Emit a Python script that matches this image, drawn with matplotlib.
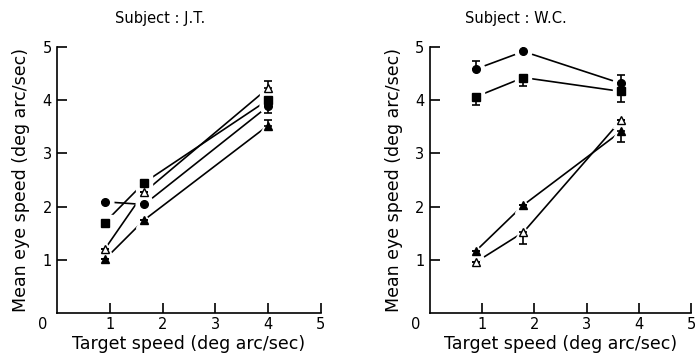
import matplotlib
matplotlib.use('Agg')
import matplotlib.pyplot as plt

# Subject J.T.
jt_x = [0.9, 1.65, 4.0]
jt_circle = [2.09, 2.04, 3.88]
jt_square = [1.70, 2.45, 4.00]
jt_open_tri = [1.20, 2.27, 4.22]
jt_fill_tri = [1.01, 1.75, 3.52]
# one-sided error bars (lower, upper)
jt_circle_err = [[0, 0, 0.12], [0, 0, 0]]
jt_open_tri_err = [[0, 0, 0], [0, 0, 0.14]]
jt_fill_tri_err = [[0, 0, 0], [0, 0, 0.10]]

# Subject W.C.
wc_x = [0.88, 1.79, 3.66]
wc_circle = [4.58, 4.91, 4.31]
wc_square = [4.06, 4.42, 4.16]
wc_open_tri = [0.96, 1.52, 3.62]
wc_fill_tri = [1.17, 2.03, 3.41]
wc_circle_err = [[0, 0, 0], [0.16, 0.13, 0.16]]
wc_square_err = [[0.16, 0.15, 0.19], [0, 0, 0]]
wc_open_tri_err = [[0, 0.22, 0], [0, 0, 0]]
wc_fill_tri_err = [[0, 0, 0.19], [0, 0, 0]]

plt.rcParams['font.family'] = 'DejaVu Sans'

fig = plt.figure(figsize=(6.98, 3.56), dpi=100)
ax1 = fig.add_axes([0.0821, 0.120, 0.3772, 0.749])
ax2 = fig.add_axes([0.616, 0.120, 0.374, 0.749])


def series(ax, x, y, marker, filled, err=None):
    ax.plot(x, y, '-', color='black', lw=1.2, zorder=2)
    # white halo so the lines stop short of the symbols
    ax.plot(x, y, linestyle='none', marker=marker, ms=12, color='white',
            zorder=3)
    if err is not None:
        ax.errorbar(x, y, yerr=err, fmt='none', ecolor='black', elinewidth=1.2,
                    capsize=3, capthick=1.2, zorder=4)
    ax.plot(x, y, linestyle='none', marker=marker, ms=5.5,
            mfc='black' if filled else 'white', mec='black', mew=1.0,
            zorder=5)


def style(ax, title, title_x):
    ax.set_xlim(0, 5)
    ax.set_ylim(0, 5)
    for s in ['top', 'right']:
        ax.spines[s].set_visible(False)
    ax.spines['left'].set_linewidth(1.2)
    ax.spines['bottom'].set_linewidth(1.2)
    ax.set_xticks([1, 2, 3, 4, 5])
    ax.set_yticks([1, 2, 3, 4, 5])
    ax.tick_params(direction='in', length=7, width=1.2, labelsize=10.5)
    ax.tick_params(axis='x', pad=3)
    ax.tick_params(axis='y', pad=4)
    ax.text(-0.055, -0.015, '0', transform=ax.transAxes, ha='center',
            va='top', fontsize=10.5)
    ax.set_xlabel('Target speed (deg arc/sec)', fontsize=12.5, labelpad=2)
    ax.set_ylabel('Mean eye speed (deg arc/sec)', fontsize=12.5, labelpad=9)
    ax.text(title_x, 1.105, title, transform=ax.get_xaxis_transform(),
            ha='center', va='center', fontsize=10.5)


series(ax1, jt_x, jt_circle, 'o', True, jt_circle_err)
series(ax1, jt_x, jt_square, 's', True)
series(ax1, jt_x, jt_open_tri, '^', False, jt_open_tri_err)
series(ax1, jt_x, jt_fill_tri, '^', True, jt_fill_tri_err)
style(ax1, 'Subject : J.T.', 1.95)

series(ax2, wc_x, wc_circle, 'o', True, wc_circle_err)
series(ax2, wc_x, wc_square, 's', True, wc_square_err)
series(ax2, wc_x, wc_open_tri, '^', False, wc_open_tri_err)
series(ax2, wc_x, wc_fill_tri, '^', True, wc_fill_tri_err)
style(ax2, 'Subject : W.C.', 1.65)

fig.savefig('out.png', dpi=100)
